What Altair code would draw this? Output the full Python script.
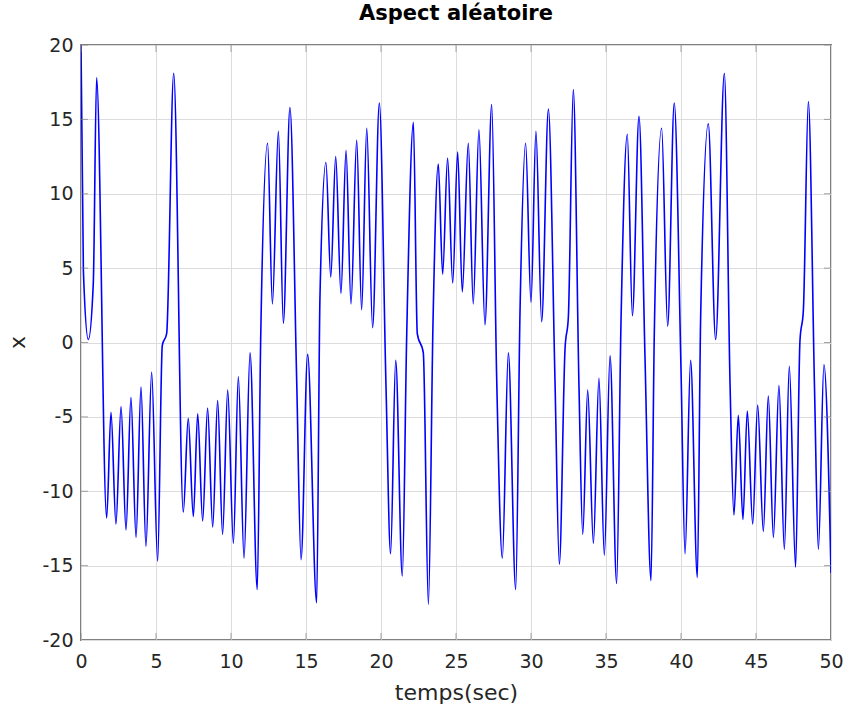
import altair as alt
import pandas as pd

# time (s) and x values (extrema and shoulders)
t_values = [
    0.0, 0.16, 0.49, 0.82, 1.04, 1.71, 2.0, 2.33, 2.67, 3.0, 3.33, 3.67, 4.0, 4.33, 4.71, 5.11,
    5.42, 5.71, 6.18, 6.82, 7.15, 7.49, 7.78, 8.11, 8.44, 8.78, 9.11, 9.44, 9.78, 10.16, 10.49,
    10.87, 11.27, 11.75, 11.98, 12.44, 12.76, 13.16, 13.49, 13.93, 14.38, 14.67, 15.11, 15.71,
    15.93, 16.33, 16.65, 16.98, 17.33, 17.67, 18.0, 18.38, 18.71, 19.05, 19.44, 19.89, 20.33,
    20.64, 20.98, 21.42, 21.71, 22.16, 22.42, 22.82, 23.16, 23.47, 23.82, 24.11, 24.44, 24.78,
    25.11, 25.42, 25.82, 26.15, 26.53, 26.93, 27.38, 27.71, 28.09, 28.49, 28.98, 29.27, 29.64,
    30.0, 30.33, 30.71, 31.16, 31.6, 31.89, 32.27, 32.49, 32.82, 33.2, 33.45, 33.78, 34.16,
    34.53, 34.89, 35.27, 35.71, 36.0, 36.42, 36.76, 37.2, 37.6, 38.0, 38.22, 38.71, 39.11,
    39.55, 40.0, 40.27, 40.64, 41.09, 41.31, 41.82, 42.31, 42.89, 43.27, 43.53, 43.82, 44.13,
    44.42, 44.78, 45.11, 45.49, 45.82, 46.16, 46.53, 46.89, 47.22, 47.64, 47.93, 48.16, 48.49,
    48.9, 49.16, 49.53, 50.0,
]
x_values = [
    20.0, 4.8, 0.2, 4.0, 17.8, -11.8, -4.7, -12.2, -4.3, -12.6, -3.7, -13.1, -3.0, -13.7, -2.0, -14.7,
    -0.2, 0.6, 18.1, -11.4, -5.1, -11.7, -4.8, -12.0, -4.4, -12.4, -3.9, -12.9, -3.2, -13.5, -2.3,
    -14.5, -0.7, -16.6, 0.3, 13.4, 2.6, 14.2, 1.3, 15.8, -2.6, -14.6, -0.8, -17.5,
    3.0, 12.1, 4.4, 12.5, 3.3, 12.9, 2.6, 13.6, 2.2, 14.4, 1.0, 16.1, -2.8,
    -14.2, -1.2, -15.7, 0.3, 14.8, 0.6, -0.7, -17.6, 1.5, 12.0, 4.6, 12.4, 4.0,
    12.8, 3.4, 13.4, 2.6, 14.3, 1.2, 16.0, -2.3, -14.5, -0.7, -16.6, 2.2, 13.4,
    2.7, 14.2, 1.4, 15.7, -2.6, -14.9, -0.4, 1.7, 17.0, -3.0, -12.9, -3.2, -13.5,
    -2.4, -14.3, -0.9, -16.2, 1.4, 14.0, 1.8, 15.2, -1.0, -16.0, 0.6, 14.4, 1.1,
    16.1, -1.8, -14.2, -1.2, -15.8, 1.7, 14.7, 0.2, 18.1, -2.8, -11.6, -4.9, -11.9,
    -4.6, -12.2, -4.2, -12.7, -3.6, -13.1, -2.9, -13.9, -1.6, -15.1, 0.1, 2.2, 16.2,
    -3.0, -13.9, -1.5, -15.5,
]
x_ticks = [0, 5, 10, 15, 20, 25, 30, 35, 40, 45, 50]
y_ticks = [-20, -15, -10, -5, 0, 5, 10, 15, 20]

df = pd.DataFrame({"t": t_values, "x": x_values})
xt = pd.DataFrame({"v": x_ticks})
yt = pd.DataFrame({"v": y_ticks})

FONT = "DejaVu Sans"
TXT = "#262626"
BORDER = "#808080"

xscale = alt.Scale(domain=[0, 50], nice=False, zero=False)
yscale = alt.Scale(domain=[-20, 20], nice=False, zero=False)

line = alt.Chart(df).mark_line(
    color="#0000ff", strokeWidth=1.6, interpolate="monotone", clip=True
).encode(
    x=alt.X("t:Q", scale=xscale,
            axis=alt.Axis(values=x_ticks, title="temps(sec)", grid=True, gridColor="#dcdcdc",
                          ticks=False, domain=False, labelFont=FONT, labelFontSize=19,
                          labelColor=TXT, labelPadding=12, labelExpr="'' + datum.value",
                          labelFlush=False, titleFont=FONT, titleFontSize=22,
                          titleFontWeight="normal", titleColor=TXT,
                          titleBaseline="alphabetic", titleY=59)),
    y=alt.Y("x:Q", scale=yscale,
            axis=alt.Axis(values=y_ticks, title="x", grid=True, gridColor="#dcdcdc",
                          ticks=False, domain=False, labelFont=FONT, labelFontSize=19,
                          labelColor=TXT, labelPadding=8, labelExpr="'' + datum.value",
                          labelFlush=False, titleFont=FONT, titleFontSize=22,
                          titleFontWeight="normal", titleColor=TXT,
                          titleBaseline="alphabetic", titleX=-57, titleY=297, titleAngle=270)),
)

tick_style = dict(color=BORDER, size=14, thickness=1, clip=True)
top_ticks = alt.Chart(xt).mark_tick(orient="vertical", **tick_style).encode(
    x=alt.X("v:Q", scale=xscale), y=alt.value(0))
bottom_ticks = alt.Chart(xt).mark_tick(orient="vertical", **tick_style).encode(
    x=alt.X("v:Q", scale=xscale), y=alt.value(595))
left_ticks = alt.Chart(yt).mark_tick(orient="horizontal", **tick_style).encode(
    y=alt.Y("v:Q", scale=yscale), x=alt.value(0))
right_ticks = alt.Chart(yt).mark_tick(orient="horizontal", **tick_style).encode(
    y=alt.Y("v:Q", scale=yscale), x=alt.value(750))

chart = alt.layer(line, top_ticks, bottom_ticks, left_ticks, right_ticks).properties(
    width=750,
    height=595,
    title=alt.TitleParams("Aspect aléatoire", font=FONT, fontSize=21, fontWeight="bold",
                          color="#000000", anchor="middle", offset=12),
    autosize=alt.AutoSizeParams(type="none"),
    padding={"left": 81, "top": 45, "right": 14, "bottom": 66},
    background="white",
).configure_view(stroke=BORDER, strokeWidth=2)

chart.save("out.html", embed_options={"renderer": "svg", "actions": False})
